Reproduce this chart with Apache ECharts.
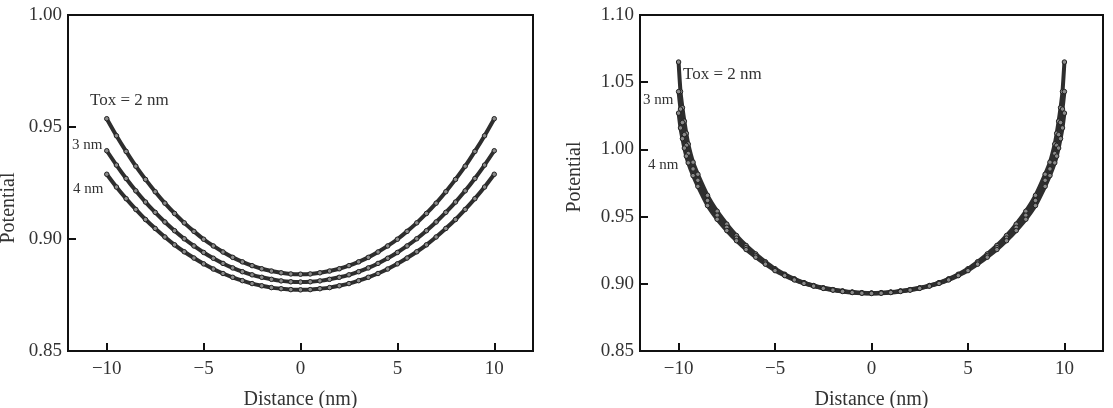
<!DOCTYPE html>
<html>
<head>
<meta charset="utf-8">
<script src="https://cdn.jsdelivr.net/npm/echarts@6/dist/echarts.min.js"></script>
<style>html,body{margin:0;padding:0;background:#fff}#c{width:1113px;height:408px}</style>
</head>
<body>
<div id="c"></div>
<script>
// ---- data ----
const xTicks = [-10, -5, 0, 5, 10];
const leftX = [-10,-9.5,-9,-8.5,-8,-7.5,-7,-6.5,-6,-5.5,-5,-4.5,-4,-3.5,-3,-2.5,-2,-1.5,-1,-0.5,0,0.5,1,1.5,2,2.5,3,3.5,4,4.5,5,5.5,6,6.5,7,7.5,8,8.5,9,9.5,10];
const left2nm = [0.9537,0.9461,0.9391,0.9325,0.9266,0.9211,0.9160,0.9114,0.9072,0.9034,0.8999,0.8969,0.8942,0.8918,0.8898,0.8881,0.8867,0.8857,0.8849,0.8844,0.8843,0.8844,0.8849,0.8857,0.8867,0.8881,0.8898,0.8918,0.8942,0.8969,0.8999,0.9034,0.9072,0.9114,0.9160,0.9211,0.9266,0.9325,0.9391,0.9461,0.9537];
const left3nm = [0.9394,0.9330,0.9270,0.9215,0.9165,0.9119,0.9076,0.9037,0.9001,0.8969,0.8940,0.8914,0.8891,0.8871,0.8854,0.8840,0.8829,0.8820,0.8813,0.8809,0.8808,0.8809,0.8813,0.8820,0.8829,0.8840,0.8854,0.8871,0.8891,0.8914,0.8940,0.8969,0.9001,0.9037,0.9076,0.9119,0.9165,0.9215,0.9270,0.9330,0.9394];
const left4nm = [0.9289,0.9232,0.9180,0.9132,0.9087,0.9047,0.9009,0.8974,0.8943,0.8915,0.8889,0.8866,0.8846,0.8829,0.8814,0.8801,0.8791,0.8783,0.8778,0.8774,0.8773,0.8774,0.8778,0.8783,0.8791,0.8801,0.8814,0.8829,0.8846,0.8866,0.8889,0.8915,0.8943,0.8974,0.9009,0.9047,0.9087,0.9132,0.9180,0.9232,0.9289];
const rightX = [-10,-9.9,-9.8,-9.7,-9.6,-9.5,-9.25,-9,-8.5,-8,-7.5,-7,-6.5,-6,-5.5,-5,-4.5,-4,-3.5,-3,-2.5,-2,-1.5,-1,-0.5,0,0.5,1,1.5,2,2.5,3,3.5,4,4.5,5,5.5,6,6.5,7,7.5,8,8.5,9,9.25,9.5,9.6,9.7,9.8,9.9,10];
const right2nm = [1.0650,1.0430,1.0310,1.0210,1.0120,1.0040,0.9905,0.9815,0.9658,0.9540,0.9444,0.9359,0.9285,0.9222,0.9164,0.9112,0.9071,0.9037,0.9009,0.8987,0.8970,0.8957,0.8947,0.8939,0.8934,0.8932,0.8934,0.8939,0.8947,0.8957,0.8970,0.8987,0.9009,0.9037,0.9071,0.9112,0.9164,0.9222,0.9285,0.9359,0.9444,0.9540,0.9658,0.9815,0.9905,1.0040,1.0120,1.0210,1.0310,1.0430,1.0650];
const right3nm = [1.0430,1.0300,1.0200,1.0110,1.0030,0.9970,0.9855,0.9770,0.9620,0.9510,0.9420,0.9340,0.9270,0.9210,0.9155,0.9105,0.9066,0.9033,0.9006,0.8985,0.8968,0.8955,0.8945,0.8937,0.8932,0.8930,0.8932,0.8937,0.8945,0.8955,0.8968,0.8985,0.9006,0.9033,0.9066,0.9105,0.9155,0.9210,0.9270,0.9340,0.9420,0.9510,0.9620,0.9770,0.9855,0.9970,1.0030,1.0110,1.0200,1.0300,1.0430];
const right4nm = [1.0270,1.0160,1.0080,1.0010,0.9950,0.9900,0.9805,0.9725,0.9582,0.9480,0.9396,0.9321,0.9255,0.9198,0.9146,0.9098,0.9061,0.9029,0.9003,0.8983,0.8966,0.8953,0.8943,0.8935,0.8930,0.8928,0.8930,0.8935,0.8943,0.8953,0.8966,0.8983,0.9003,0.9029,0.9061,0.9098,0.9146,0.9198,0.9255,0.9321,0.9396,0.9480,0.9582,0.9725,0.9805,0.9900,0.9950,1.0010,1.0080,1.0160,1.0270];

// ---- chart ----
const FONT = '"Liberation Serif","DejaVu Serif",serif';
const TXT = '#333';
const AX = '#111';
const pairs = (xs, ys) => xs.map((x, i) => [x, ys[i]]);
const fmtX = v => v < 0 ? '\u2212' + Math.abs(v) : String(v);

function xAxisCfg(gi) {
  return {
    type: 'value', gridIndex: gi, min: -12, max: 12,
    name: 'Distance (nm)', nameLocation: 'middle', nameGap: 39,
    nameTextStyle: {fontFamily: FONT, fontSize: 20, color: TXT},
    axisLine: {show: true, onZero: false, lineStyle: {color: AX, width: 2}},
    axisTick: {show: true, inside: true, length: 8, customValues: xTicks, lineStyle: {color: AX, width: 2}},
    axisLabel: {customValues: xTicks, formatter: fmtX, fontFamily: FONT, fontSize: 19, color: TXT, margin: 9},
    splitLine: {show: false}
  };
}
function yAxisCfg(gi, min, max) {
  return {
    type: 'value', gridIndex: gi, min: min, max: max, interval: 0.05,
    axisLine: {show: true, onZero: false, lineStyle: {color: AX, width: 2}},
    axisTick: {show: true, inside: true, length: 8, lineStyle: {color: AX, width: 2}},
    axisLabel: {formatter: v => v.toFixed(2), fontFamily: FONT, fontSize: 19, color: TXT, margin: 6},
    splitLine: {show: false}
  };
}
function line(gi, xs, ys) {
  return {
    type: 'line', xAxisIndex: gi, yAxisIndex: gi, data: pairs(xs, ys),
    smooth: 0.2, showAllSymbol: true, symbol: 'circle', symbolSize: 4.5,
    lineStyle: {color: '#2e2e2e', width: 4},
    itemStyle: {color: '#8a8a8a', borderColor: '#222', borderWidth: 1},
    animation: false, silent: true
  };
}
function label(text, x, y, size) {
  return {type: 'text', x: x, y: y, silent: true,
    style: {text: text, fontFamily: FONT, fontSize: size, fill: TXT, align: 'left', verticalAlign: 'middle'}};
}
function vName(text, x, y) {
  return {type: 'text', x: x, y: y, rotation: Math.PI / 2, silent: true,
    style: {text: text, fontFamily: FONT, fontSize: 20, fill: TXT, align: 'center', verticalAlign: 'middle'}};
}

const chart = echarts.init(document.getElementById('c'), null, {renderer: 'canvas'});
chart.setOption({
  backgroundColor: '#fff',
  animation: false,
  grid: [
    {left: 68, top: 15, width: 465, height: 336, show: true, borderColor: AX, borderWidth: 2, containLabel: false, outerBoundsMode: 'none'},
    {left: 640, top: 15, width: 463, height: 336, show: true, borderColor: AX, borderWidth: 2, containLabel: false, outerBoundsMode: 'none'}
  ],
  xAxis: [xAxisCfg(0), xAxisCfg(1)],
  yAxis: [yAxisCfg(0, 0.85, 1.00), yAxisCfg(1, 0.85, 1.10)],
  series: [
    line(0, leftX, left2nm), line(0, leftX, left3nm), line(0, leftX, left4nm),
    line(1, rightX, right2nm), line(1, rightX, right3nm), line(1, rightX, right4nm)
  ],
  graphic: [
    vName('Potential', 9, 208),
    vName('Potential', 575, 177),
    label('Tox = 2 nm', 90, 101, 17),
    label('3 nm', 72, 145, 15),
    label('4 nm', 73, 189, 15),
    label('Tox = 2 nm', 683, 75, 17),
    label('3 nm', 643, 100, 15),
    label('4 nm', 648, 165, 15)
  ]
});
</script>
</body>
</html>
